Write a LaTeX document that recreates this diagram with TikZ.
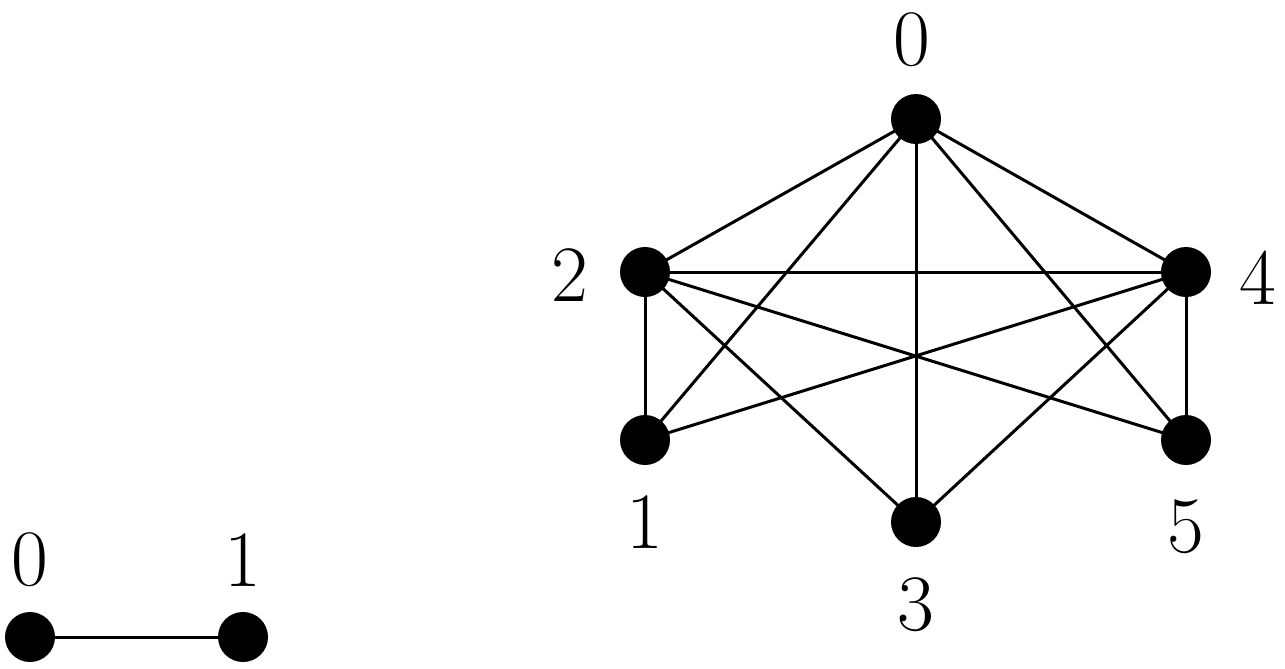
\documentclass[tikz,border=0pt]{standalone}
\begin{document}
\begin{tikzpicture}[x=0.5pt,y=-0.5pt,
  v/.style={circle,fill=black,inner sep=0pt,minimum size=25pt},
  lab/.style={font=\fontsize{40}{48}\selectfont},
  e/.style={line width=1.5pt}]
\useasboundingbox (0,0) rectangle (1285,669);
\node[v] (a0) at (30,637) {};
\node[v] (a1) at (243,637) {};
\node[lab] (la0) at (30,560) {0};
\node[lab] (la1) at (243,560) {1};
\draw[e] (a0) -- (a1);
\node[v] (b0) at (916,119) {};
\node[v] (b2) at (645,272) {};
\node[v] (b4) at (1186,272) {};
\node[v] (b1) at (645,440) {};
\node[v] (b5) at (1186,440) {};
\node[v] (b3) at (916,522) {};
\node[lab] (lb0) at (912,40) {0};
\node[lab] (lb2) at (570,275) {2};
\node[lab] (lb4) at (1258,278) {4};
\node[lab] (lb1) at (645,522) {1};
\node[lab] (lb5) at (1186,527) {5};
\node[lab] (lb3) at (916,605) {3};
\foreach \p/\q in {b0/b2,b0/b4,b0/b1,b0/b5,b0/b3,b2/b4,b2/b1,b2/b5,b2/b3,b4/b1,b4/b3,b4/b5}
  \draw[e] (\p.center) -- (\q.center);
\end{tikzpicture}
\end{document}
